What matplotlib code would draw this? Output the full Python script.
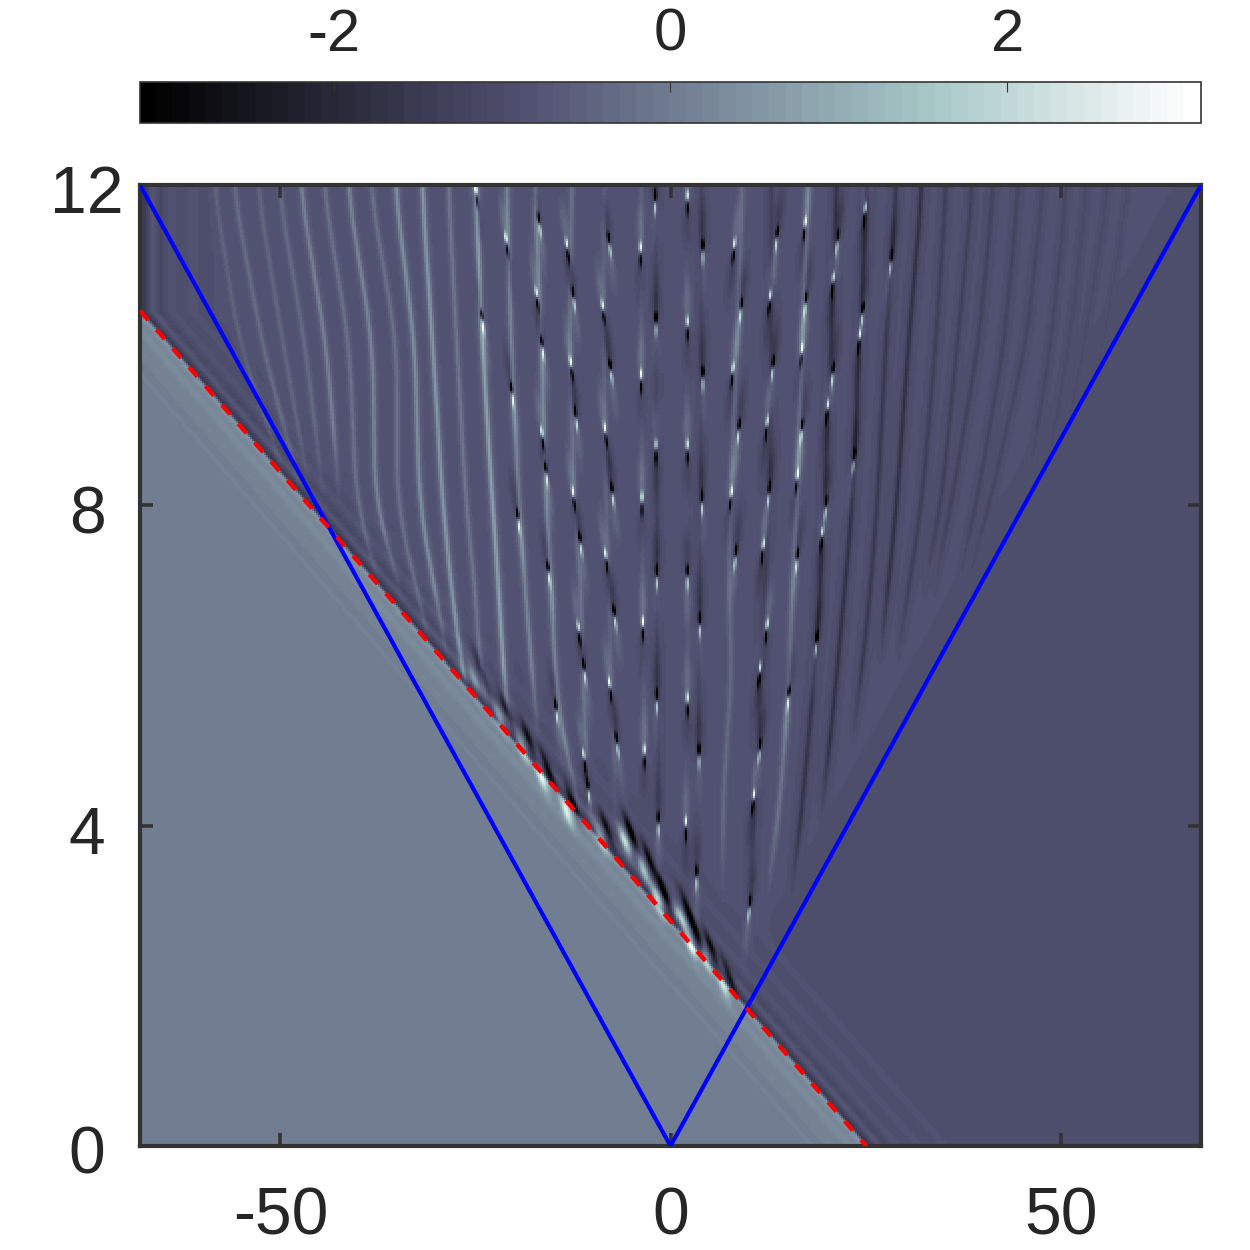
import numpy as np
import matplotlib
matplotlib.use("Agg")
import matplotlib.pyplot as plt
from matplotlib.transforms import ScaledTranslation

plt.rcParams['font.family'] = ['Liberation Sans', 'DejaVu Sans']
plt.rcParams['axes.unicode_minus'] = False

# ---- values (x, t in data units; phase in radians) ----
x_ticks = [-50, 0, 50]
y_ticks = [0, 4, 8, 12]
cbar_ticks = [-2, 0, 2]
phase_min, phase_max = -3.15, 3.15
cone_x = [-68, 0, 68]
cone_t = [12, 0, 12]
front_x = [-68, 25.1]
front_t = [10.43, 0]

# phase profile across the shock front (distance from the front -> phase)
fringe_d = [-30, -12, -10, -9, -7, -6, -4.5, -3.5, -2.2, -1.2, -0.3, 0.3, 1.5, 2.5, 4, 5, 6.5, 8, 10, 14]
fringe_phase = [.04, .04, .08, .02, .12, .04, .2, .1, .38, .22, .55, -1.55, -.72, -1.1, -.8, -.98, -.85, -.92, -.87, -.87]
upper_phase = -.87
right_phase = -.98

# levels at which the streak positions were read
streak_t = [12, 10, 8, 6.8, 6, 5, 4, 3]
light_streaks = [
    ([-58.7, -55.3, -48.2], .3),
    ([-56.2, -52.4, -46.9], .45),
    ([-53.1, -49.7, -46.0], .35),
    ([-50.4, -46.9, -44.4], .42),
    ([-47.6, -44.2, -42.4], .75),
    ([-44.6, -41.2, -40.3, -36.7], .52),
    ([-41.5, -38.2, -37.9, -34.1], .8),
    ([-38.6, -35.1, -35.1, -32.2, -30.3], .52),
    ([-35.4, -32.8, -32.2, -30.0, -28.3], .95),
    ([-31.9, -30.5, -29.2, -27.9, -26.8, -24.7], 1.1),
    ([-28.5, -27.4, -26.2, -24.9, -24.5, -22.6], .6),
    ([-25.0, -24.1, -22.8, -21.9, -21.5, -20.3], 1.25),
    ([-21.0, -20.4, -19.4, -18.5, -17.8, -16.8], .8),
    ([-17.4, -16.5, -15.9, -15.1, -14.9, -13.6, -10.9], .8),
    ([-12.6, -12.9, -12.3, -11.3, -11.3, -10.8, -10.1], .5),
    ([-8.5, -8.5, -8.2, -7.7, -7.7, -7.2, -7.0], .3),
    ([-3.7, -3.7, -3.6, -3.5, -3.4, -3.3, -3.2], .2),
    ([2.0, 2.0, 2.0, 2.1, 2.1, 2.0, 2.0], .1),
    ([9.2, 8.5, 7.6, 7.4, 7.9, 7.1, 6.6, 6.7], .4),
    ([17.7, 16.8, 16.2, 15.5, 15.3, 14.6, 13.7, 12.1], .55),
]
dark_streaks = [
    ([-1.8, -1.8, -1.7, -1.7, -1.6, -1.5, -1.5], -.25),
    ([3.9, 3.9, 3.8, 3.7, 3.6, 3.5, 3.4], -.25),
    ([12.9, 12.9, 12.7, 12.0, 11.4, 11.4, 10.6, 10.1], -.35),
    ([21.3, 20.6, 19.7, 19.1, 18.5, 17.6, 16.6, 15.3], -.6),
    ([25.3, 24.2, 23.3, 22.2, 21.4, 20.4, 19.1], -.65),
    ([29.0, 27.6, 26.5, 25.5, 24.6, 23.2], -.5),
    ([32.3, 30.5, 29.0, 27.7, 26.8], -.65),
    ([35.4, 34.0, 32.2, 30.3, 29.0], -.38),
    ([38.8, 36.8, 34.7, 32.2], -.34),
    ([41.5, 39.5, 36.0, 33.5], -.3),
    ([44.7, 42.8, 39.2, 36.5], -.26),
    ([47.9, 45.6, 40.9, 37.5], -.22),
    ([50.9, 48.8, 45.5], -.19),
    ([53.5, 51.2, 47.5], -.16),
    ([56.3, 53.1, 49.0], -.13),
    ([58.8, 55.6, 50.0], -.1),
]

# localized peaks: x, t, which lobe is white on top (+1) or dark on top (-1)
peaks_left_x = [-24.9, -24.1, -21, -20.3, -19.5, -16.8, -17.1, -16.4, -16.4, -15.9, -15.6, -14.6,
                -13.2, -12.4, -12.7, -12.1, -12.4, -11.5, -11.7, -11.0, -11.0, -10.5,
                -7.8, -8.6, -7.6, -8.3, -7.4, -8.2, -7.1, -7.7, -6.8]
peaks_left_t = [11.9, 10.31, 11.28, 9.40, 7.82, 11.53, 10.6, 9.98, 8.85, 8.40, 7.16, 5.44,
                11.21, 10.6, 9.73, 9.10, 8.10, 7.53, 6.41, 5.94, 4.82, 4.45,
                11.28, 10.44, 9.69, 8.90, 8.15, 7.32, 6.61, 5.72, 5.03]
peaks_left_s = [1, -1, 1, -1, -1, -1, 1, -1, 1, -1, -1, -1,
                1, -1, 1, -1, 1, -1, 1, -1, 1, -1,
                -1, 1, -1, 1, -1, 1, -1, 1, -1]
peaks_mid_x = [-1.9, -3.8, -1.8, -3.7, -1.8, -3.6, -1.7, -3.5, -1.7, -3.3, -1.5,
               2.1, 4.1, 2.1, 4.1, 2.1, 4.0, 2.1, 3.7, 2.1, 3.6, 1.9, 3.3]
peaks_mid_t = [11.81, 11.16, 10.28, 9.57, 8.69, 8.03, 7.11, 6.47, 5.57, 4.88, 4.03,
               11.81, 11.19, 10.23, 9.60, 8.69, 8.04, 7.11, 6.51, 5.53, 4.88, 3.98, 3.36]
peaks_mid_s = [-1, 1, -1, 1, 1, 1, -1, 1, -1, 1, -1,
               1, -1, 1, -1, 1, -1, -1, -1, 1, -1, 1, -1]
peaks_right_x = [8.1, 9.0, 7.9, 8.7, 7.7, 8.3,
                 13.6, 12.7, 13.1, 12.3, 12.6, 11.8, 11.4, 11.4, 10.6, 10.1,
                 17.2, 17.3, 16.8, 16.8, 16.2, 16.2,
                 21.4, 20.8, 20.8, 20.1, 19.9, 19.4, 24.9, 24.6, 24.2, 23.5, 28.3,
                 18.7, 15.1, 12.3]
peaks_right_t = [11.21, 10.46, 9.65, 8.94, 8.10, 7.36,
                 11.35, 10.56, 9.73, 8.98, 8.15, 7.44, 5.91, 4.95, 4.32, 2.98,
                 11.48, 10.53, 9.90, 8.94, 8.32, 7.32,
                 11.31, 10.78, 9.65, 9.19, 7.98, 7.60, 11.65, 10.40, 10.07, 8.57, 11.06,
                 6.28, 5.61, 6.44]
peaks_right_s = [1, -1, 1, -1, 1, -1,
                 -1, 1, -1, 1, -1, 1, 1, -1, 1, -1,
                 1, -1, 1, -1, 1, -1,
                 -1, 1, -1, 1, -1, 1, 1, -1, 1, -1, -1,
                 -1, -1, 1]

# bright wedges sitting on the front
wedge_x = [-5.8, -1.6, 2.5, -25.2, -21.9, -19.0, -16.5, -13.3, -8.9, -3.4, 1.3, 4.4, 6.7]
wedge_t = [3.8, 3.07, 2.53, 5.86, 5.35, 4.98, 4.60, 4.18, 3.85, 3.45, 2.85, 2.35, 2.0]
wedge_a = [3.2, 3.2, 3.0, 1.5, 1.8, 2.1, 2.4, 2.4, 2.1, 2.5, 2.5, 2.3, 1.9]

# ---- build the phase field from those values ----
nx, nt = 530, 480
xs = np.linspace(-68, 68, nx)
ts = np.linspace(0, 12, nt)
X, T = np.meshgrid(xs, ts)
front = np.interp(T, front_t[::-1], front_x[::-1])
D = X - front
blue = np.interp(T, cone_t[1:], cone_x[1:])
field = np.interp(D, fringe_d, fringe_phase)
inside = np.clip((blue - X) / 4.0, 0, 1)
outer = right_phase + (upper_phase - right_phase) * inside
band_w = np.clip((D - 10) / 4.0, 0, 1)
field = field * (1 - band_w) + outer * band_w
above = np.clip(D / 1.0, 0, 1) * inside


def smooth(a, win=49):
    pad = np.pad(a, win, mode='edge')
    return np.convolve(pad, np.ones(win) / win, mode='same')[win:-win]


for table, width in ((light_streaks, .3), (dark_streaks, .3)):
    for vals, amp in table:
        tt = np.array(streak_t[:len(vals)])[::-1]
        xc = smooth(np.interp(ts, tt, np.array(vals)[::-1]))
        fade = np.clip((ts - tt[0]) / 1.0, 0, 1)
        dx = X - xc[:, None]
        prof = amp * np.exp(-(dx / width) ** 2) + .3 * amp * np.exp(-(dx / (width * 2.6)) ** 2)
        field += prof * fade[:, None] * above


def add_peaks(px, pt, ps, tilt):
    global field
    for x0, t0, s in zip(px, pt, ps):
        r = X - x0 - tilt * (t0 - T)
        core = np.exp(-(r / .17) ** 2)
        field += s * 4.0 * core * np.exp(-((T - t0 - .07) / .07) ** 2) * above
        field -= s * 2.8 * core * np.exp(-((T - t0 + .08) / .1) ** 2) * above
        tail = np.exp(-(r / .5) ** 2)
        field += s * .5 * tail * np.exp(-((T - t0 - .3) / .3) ** 2) * above
        field -= s * .4 * tail * np.exp(-((T - t0 + .3) / .3) ** 2) * above


add_peaks(peaks_left_x, peaks_left_t, peaks_left_s, 1.2)
add_peaks(peaks_mid_x, peaks_mid_t, peaks_mid_s, 0.0)
add_peaks(peaks_right_x, peaks_right_t, peaks_right_s, -1.0)

for x0, t0, a in zip(wedge_x, wedge_t, wedge_a):
    r = X - x0 - 3.6 * (t0 - T)
    lobe = np.exp(-(r / .5) ** 2) * np.exp(-((T - t0) / .17) ** 2)
    dark = np.exp(-((r - 1.2) / .4) ** 2) * np.exp(-((T - t0 - .12) / .22) ** 2)
    field += a * lobe - 2.2 * (a / 2.6) * dark

field = np.clip(field, phase_min, phase_max)

# ---- figure ----
ink = '#262626'
edge = '#333333'
fig = plt.figure(figsize=(12.5, 12.5), dpi=100)
ax = fig.add_axes([140 / 1250, 1 - 1146 / 1250, 1061 / 1250, 961 / 1250])
cax = fig.add_axes([140 / 1250, 1 - 123 / 1250, 1061 / 1250, 41 / 1250])
cmap = plt.get_cmap('bone', 64)
im = ax.imshow(field, origin='lower', extent=[-68, 68, 0, 12], aspect='auto',
               cmap=cmap, vmin=phase_min, vmax=phase_max, interpolation='nearest')
ax.plot(cone_x, cone_t, color='#0000ff', lw=3.0, solid_joinstyle='miter', zorder=3)
ax.plot(front_x, front_t, color='#ff0000', lw=3.1, dashes=(2.9, 2.9), zorder=4)
ax.set_xlim(-68, 68)
ax.set_ylim(0, 12)
ax.set_xticks(x_ticks)
ax.set_yticks(y_ticks)
ax.tick_params(axis='both', which='major', direction='in', top=True, right=True,
               length=9.5, width=2.6, color=edge, labelsize=47.5, labelcolor=ink)
ax.tick_params(axis='x', pad=29)
ax.tick_params(axis='y', pad=38)
shift = ScaledTranslation(0, -4 / 100, fig.dpi_scale_trans)
for lab in ax.get_yticklabels():
    lab.set_transform(lab.get_transform() + shift)
    lab.set_horizontalalignment('center')
for sp in ax.spines.values():
    sp.set_linewidth(3.0)
    sp.set_color(edge)

cb = fig.colorbar(im, cax=cax, orientation='horizontal', ticks=cbar_ticks,
                  ticklocation='top')
cb.solids.set_edgecolor('face')
cb.ax.tick_params(direction='in', length=7, width=0.8, color=edge, labelsize=43,
                  labelcolor=ink, pad=14)
cb.ax.xaxis.set_major_formatter(matplotlib.ticker.FuncFormatter(lambda v, _: f'{v:g}'))
cb.outline.set_linewidth(1.2)
cb.outline.set_edgecolor(edge)

fig.savefig('out.png', dpi=100, facecolor='white')
